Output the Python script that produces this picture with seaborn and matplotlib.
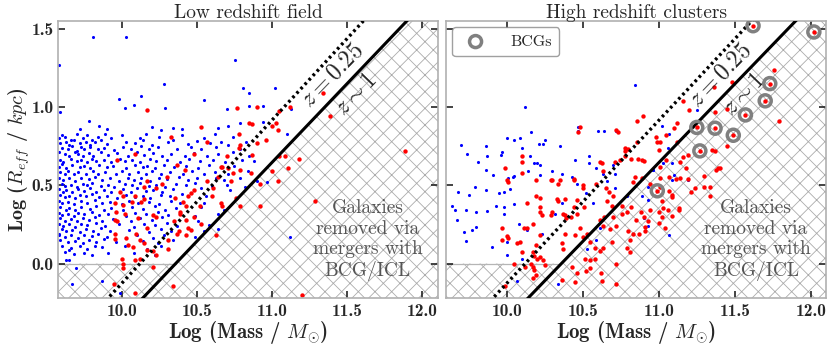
import numpy as np
import pandas as pd
import seaborn as sns
import matplotlib.pyplot as plt

# (log mass, log R_eff)
left_blue = [
    (9.81, 1.45), (10.03, 1.445), (9.58, 1.27), (10.755, 1.30), (10.28, 1.145), (10.81, 1.12),
    (11.02, 1.12), (10.85, 1.09), (10.13, 1.07), (9.98, 1.05), (10.55, 1.045), (10.08, 1.015),
    (10.02, 0.995), (9.59, 0.97), (10.29, 0.995), (10.70, 0.99), (10.94, 1.01), (10.85, 1.005),
    (9.78, 0.91), (9.72, 0.86), (9.85, 0.88), (9.90, 0.86), (10.20, 0.87), (10.26, 0.855),
    (10.34, 0.865), (10.40, 0.86), (10.64, 0.865), (10.71, 0.88), (10.79, 0.90), (10.94, 0.905),
    (11.13, 0.985), (11.10, 0.83), (9.58, 0.19), (9.645, 0.085), (9.63, 0.025), (9.65, 0.025),
    (9.695, -0.03), (9.665, -0.13), (9.87, -0.11), (9.99, -0.19), (10.64, 0.22), (11.12, 0.17),
    (10.97, 0.52),
    (9.58, 0.80), (9.60, 0.82), (9.62, 0.81), (9.66, 0.79), (9.70, 0.83), (9.74, 0.80), (9.77, 0.82),
    (9.80, 0.79), (9.84, 0.81), (9.89, 0.83), (9.93, 0.80), (10.00, 0.82), (10.12, 0.80), (10.16, 0.83),
    (10.25, 0.81), (10.34, 0.79), (10.40, 0.82), (10.55, 0.80), (10.62, 0.83), (10.74, 0.81),
    (9.59, 0.77), (9.63, 0.78), (9.65, 0.76), (9.68, 0.79), (9.72, 0.77), (9.76, 0.78), (9.79, 0.76),
    (9.82, 0.775), (9.86, 0.79), (9.90, 0.765), (10.03, 0.78), (10.09, 0.77), (10.14, 0.79),
    (10.20, 0.76), (10.31, 0.78), (10.44, 0.765), (10.50, 0.785), (10.59, 0.77), (10.66, 0.78),
    (10.71, 0.76), (10.83, 0.775),
    (9.60, 0.74), (9.64, 0.73), (9.67, 0.75), (9.70, 0.72), (9.73, 0.745), (9.75, 0.73), (9.79, 0.745),
    (9.84, 0.73), (9.88, 0.74), (9.95, 0.725), (10.01, 0.745), (10.06, 0.73), (10.13, 0.75),
    (10.18, 0.735), (10.24, 0.745), (10.37, 0.73), (10.46, 0.745), (10.53, 0.735), (10.63, 0.745),
    (10.79, 0.73),
    (9.58, 0.71), (9.62, 0.70), (9.65, 0.69), (9.69, 0.71), (9.71, 0.70), (9.74, 0.685), (9.78, 0.705),
    (9.81, 0.69), (9.86, 0.71), (9.91, 0.695), (9.97, 0.705), (10.04, 0.69), (10.10, 0.71),
    (10.15, 0.695), (10.21, 0.705), (10.27, 0.69), (10.33, 0.70), (10.42, 0.685), (10.48, 0.705),
    (10.57, 0.69), (10.64, 0.70), (10.74, 0.71), (10.85, 0.69),
    (9.59, 0.665), (9.61, 0.65), (9.66, 0.67), (9.70, 0.655), (9.73, 0.665), (9.77, 0.65), (9.80, 0.67),
    (9.83, 0.655), (9.88, 0.665), (9.93, 0.65), (9.99, 0.67), (10.02, 0.655), (10.07, 0.665),
    (10.12, 0.65), (10.19, 0.67), (10.23, 0.655), (10.30, 0.665), (10.39, 0.65), (10.45, 0.67),
    (10.52, 0.655), (10.61, 0.665), (10.69, 0.65), (10.80, 0.665), (10.88, 0.655),
    (9.58, 0.62), (9.60, 0.635), (9.63, 0.61), (9.67, 0.63), (9.72, 0.615), (9.75, 0.625), (9.79, 0.61),
    (9.85, 0.63), (9.90, 0.615), (9.94, 0.625), (10.03, 0.61), (10.09, 0.63), (10.14, 0.615),
    (10.17, 0.625), (10.22, 0.61), (10.28, 0.63), (10.35, 0.615), (10.43, 0.625), (10.51, 0.61),
    (10.58, 0.63), (10.66, 0.615), (10.75, 0.625),
    (9.59, 0.585), (9.62, 0.57), (9.64, 0.59), (9.68, 0.575), (9.71, 0.585), (9.76, 0.57), (9.81, 0.59),
    (9.84, 0.575), (9.89, 0.585), (9.96, 0.57), (10.00, 0.59), (10.05, 0.575), (10.11, 0.585),
    (10.16, 0.57), (10.20, 0.59), (10.26, 0.575), (10.32, 0.585), (10.41, 0.57), (10.47, 0.59),
    (10.55, 0.575), (10.62, 0.585), (10.71, 0.57), (10.84, 0.59),
    (9.58, 0.55), (9.61, 0.535), (9.65, 0.545), (9.69, 0.53), (9.73, 0.55), (9.78, 0.54), (9.82, 0.555),
    (9.87, 0.535), (9.92, 0.545), (9.98, 0.53), (10.04, 0.55), (10.08, 0.535), (10.13, 0.545),
    (10.19, 0.53), (10.25, 0.55), (10.30, 0.54), (10.38, 0.555), (10.44, 0.535), (10.50, 0.545),
    (10.57, 0.53), (10.63, 0.55), (10.68, 0.535), (10.79, 0.545), (10.90, 0.53),
    (9.60, 0.51), (9.62, 0.495), (9.66, 0.505), (9.70, 0.49), (9.74, 0.51), (9.77, 0.50), (9.80, 0.515),
    (9.86, 0.495), (9.91, 0.505), (9.95, 0.49), (10.02, 0.51), (10.07, 0.50), (10.12, 0.515),
    (10.18, 0.495), (10.23, 0.505), (10.29, 0.49), (10.36, 0.51), (10.43, 0.50), (10.49, 0.515),
    (10.60, 0.495), (10.70, 0.505), (10.82, 0.49),
    (9.58, 0.475), (9.61, 0.46), (9.63, 0.47), (9.67, 0.455), (9.71, 0.475), (9.75, 0.465), (9.79, 0.48),
    (9.83, 0.46), (9.88, 0.47), (9.93, 0.455), (10.01, 0.475), (10.06, 0.46), (10.10, 0.48),
    (10.16, 0.465), (10.21, 0.47), (10.27, 0.455), (10.34, 0.475), (10.53, 0.48), (10.72, 0.47),
    (9.59, 0.44), (9.62, 0.425), (9.65, 0.435), (9.69, 0.42), (9.72, 0.44), (9.76, 0.43), (9.80, 0.445),
    (9.85, 0.425), (9.90, 0.435), (9.97, 0.42), (10.03, 0.44), (10.09, 0.425), (10.14, 0.435),
    (10.19, 0.42), (10.26, 0.44), (10.32, 0.43), (10.40, 0.445), (10.56, 0.435),
    (9.58, 0.40), (9.60, 0.385), (9.64, 0.395), (9.68, 0.38), (9.73, 0.40), (9.77, 0.39), (9.82, 0.405),
    (9.87, 0.385), (9.92, 0.395), (10.00, 0.38), (10.05, 0.40), (10.11, 0.385), (10.18, 0.395),
    (10.25, 0.38), (10.33, 0.40), (10.39, 0.39), (10.55, 0.385),
    (9.59, 0.36), (9.63, 0.345), (9.65, 0.355), (9.69, 0.34), (9.73, 0.36), (9.79, 0.35), (9.83, 0.365),
    (9.88, 0.345), (9.93, 0.355), (10.01, 0.34), (10.07, 0.36), (10.14, 0.35), (10.22, 0.365),
    (10.29, 0.345), (10.36, 0.355), (10.53, 0.36), (10.68, 0.345),
    (9.58, 0.325), (9.60, 0.31), (9.64, 0.32), (9.68, 0.305), (9.71, 0.325), (9.75, 0.315), (9.80, 0.33),
    (9.85, 0.31), (9.91, 0.32), (10.03, 0.305), (10.09, 0.325), (10.16, 0.315), (10.24, 0.33),
    (10.31, 0.31), (10.49, 0.305), (10.64, 0.315),
    (9.59, 0.29), (9.62, 0.275), (9.66, 0.285), (9.70, 0.27), (9.74, 0.29), (9.78, 0.28), (9.82, 0.295),
    (9.87, 0.275), (9.94, 0.285), (10.06, 0.27), (10.12, 0.29), (10.20, 0.28), (10.27, 0.295),
    (10.35, 0.275), (10.51, 0.27),
    (9.58, 0.255), (9.61, 0.24), (9.65, 0.25), (9.69, 0.235), (9.73, 0.255), (9.77, 0.245), (9.83, 0.26),
    (9.89, 0.24), (9.98, 0.25), (10.08, 0.235), (10.15, 0.255), (10.22, 0.245), (10.30, 0.26),
    (10.37, 0.24), (10.58, 0.245),
    (9.60, 0.22), (9.63, 0.205), (9.67, 0.215), (9.72, 0.20), (9.76, 0.22), (9.81, 0.21), (9.86, 0.225),
    (9.92, 0.205), (10.05, 0.215), (10.18, 0.20), (10.26, 0.22), (10.33, 0.21), (10.55, 0.205),
    (9.58, 0.185), (9.62, 0.17), (9.66, 0.18), (9.71, 0.165), (9.75, 0.185), (9.80, 0.175), (9.84, 0.19),
    (9.90, 0.17), (10.10, 0.18), (10.21, 0.165), (10.28, 0.185), (10.49, 0.17),
    (9.59, 0.15), (9.64, 0.135), (9.69, 0.145), (9.74, 0.13), (9.78, 0.15), (9.83, 0.14), (9.88, 0.155),
    (9.96, 0.135), (10.14, 0.145), (10.24, 0.13), (10.34, 0.15),
    (9.60, 0.115), (9.66, 0.10), (9.72, 0.11), (9.77, 0.095), (9.82, 0.115), (9.87, 0.105), (10.02, 0.11),
    (10.17, 0.095), (10.26, 0.115),
    (9.62, 0.075), (9.68, 0.06), (9.75, 0.07), (9.80, 0.055), (9.91, 0.065), (10.08, 0.07), (10.22, 0.055),
]

left_red = [
    (9.97, 0.665), (10.085, 0.70), (10.165, 0.98), (10.33, 0.81), (10.53, 0.875), (10.565, 0.775),
    (10.48, 0.70), (10.37, 0.63), (10.42, 0.60), (10.30, 0.555), (10.27, 0.51), (10.23, 0.48),
    (10.17, 0.525), (9.99, 0.46), (10.005, 0.43), (9.955, 0.385), (10.01, 0.375), (10.065, 0.395),
    (10.13, 0.395), (10.15, 0.41), (9.96, 0.33), (10.02, 0.32), (9.955, 0.28), (9.965, 0.27),
    (10.11, 0.29), (10.21, 0.31), (10.23, 0.30), (10.345, 0.27), (10.39, 0.32), (10.43, 0.365),
    (10.44, 0.43), (10.46, 0.45), (10.48, 0.47), (9.955, 0.19), (9.955, 0.16), (10.03, 0.165),
    (10.04, 0.12), (10.075, 0.105), (10.095, 0.19), (10.12, 0.15), (10.15, 0.13), (10.165, 0.085),
    (10.21, 0.08), (10.23, 0.055), (10.12, 0.03), (10.00, 0.03), (10.01, 0.0), (10.01, -0.03),
    (10.09, 0.025), (10.21, -0.02), (10.38, 0.21), (10.31, 0.095), (10.37, 0.19), (10.43, 0.18),
    (10.44, 0.225), (10.53, 0.255), (10.52, 0.365), (10.60, 0.43), (10.61, 0.48), (10.565, 0.525),
    (10.64, 0.555), (10.66, 0.615), (10.67, 0.615), (10.71, 0.61), (10.74, 0.58), (10.73, 0.525),
    (10.70, 0.685), (10.78, 0.74), (10.79, 0.76), (10.78, 0.83), (10.85, 0.90), (10.87, 0.895),
    (10.90, 1.00), (10.77, 0.995), (10.79, 0.60), (10.86, 0.58), (10.87, 0.695), (10.90, 0.77),
    (10.96, 0.79), (11.00, 0.88), (11.03, 0.90), (11.04, 0.855), (11.05, 0.975), (11.12, 1.00),
    (11.09, 0.685), (11.05, 0.685), (11.00, 0.59), (11.04, 0.53), (11.11, 0.61), (10.92, 0.51),
    (10.66, 0.385), (10.67, 0.365), (10.79, 0.365), (10.76, 0.42), (10.625, 0.18), (10.31, 0.15),
    (10.165, 0.225), (10.355, 0.42), (10.41, 0.395), (10.385, 0.33), (10.43, 0.28), (10.48, 0.30),
    (10.46, 0.215), (10.145, 0.49), (10.09, 0.43),
    (11.34, 1.09), (11.39, 0.94), (11.89, 0.72), (11.18, 0.67), (11.29, 0.40), (10.92, 0.365),
    (11.20, -0.20), (10.34, -0.145), (10.09, -0.19), (9.95, -0.13),
]

right_blue = [
    (10.845, 1.14), (10.12, 1.00), (9.70, 0.755), (9.74, 0.70), (9.81, 0.65), (9.86, 0.75),
    (9.87, 0.685), (9.97, 0.715), (10.00, 0.80), (10.05, 0.79), (10.09, 0.80), (10.10, 0.74),
    (10.16, 0.84), (10.21, 0.765), (10.24, 0.765), (10.25, 0.79), (10.20, 0.64), (10.22, 0.63),
    (10.14, 0.59), (10.04, 0.555), (10.01, 0.55), (9.91, 0.565), (9.86, 0.60), (9.79, 0.49),
    (9.75, 0.44), (9.68, 0.46), (9.64, 0.365), (9.66, 0.34), (9.73, 0.34), (9.80, 0.33),
    (9.87, 0.335), (9.93, 0.365), (9.95, 0.45), (9.98, 0.455), (10.02, 0.475), (10.05, 0.56),
    (10.05, 0.38), (9.98, 0.32), (9.67, 0.28), (9.72, 0.20), (9.77, 0.215), (9.80, 0.235),
    (9.73, 0.145), (9.90, 0.105), (10.00, 0.055), (10.10, 0.03), (10.07, -0.11), (10.34, -0.13),
    (10.35, 0.75), (10.47, 0.875), (10.47, 0.85), (10.60, 0.845), (10.64, 0.85), (10.72, 0.85),
    (10.54, 0.685), (10.54, 0.645), (10.45, 0.66), (10.36, 0.575), (10.30, 0.59), (10.43, 0.555),
    (10.46, 0.51), (10.59, 0.61), (10.63, 0.575), (10.70, 0.63), (10.71, 0.575), (10.66, 0.525),
    (10.71, 0.485), (10.52, 0.45), (10.57, 0.385), (10.36, 0.39), (10.32, 0.32), (10.23, 0.19),
    (10.13, 0.215), (10.08, 0.255), (10.00, 0.14), (9.98, 0.36), (9.86, 0.47), (9.96, 0.695),
    (10.15, 0.685), (10.18, 0.64), (10.22, 0.565), (10.585, 0.15), (10.53, 0.095), (10.61, 0.225),
    (10.69, 0.365), (10.79, 0.43), (10.89, 0.43), (11.03, 0.64), (11.10, 0.565), (11.085, 0.535),
    (11.19, 0.535), (10.90, 0.29), (10.93, 0.24), (11.07, 0.18), (10.93, 0.405), (10.965, 0.60),
    (11.25, 0.98), (11.02, 0.88), (11.07, 0.83), (11.06, 0.74), (10.96, 0.60), (11.09, 0.64),
    (10.93, 0.49),
]

right_red = [
    (11.76, 1.24), (11.36, 1.13), (11.48, 1.16), (11.79, 0.91), (11.20, 0.98), (11.16, 1.04),
    (11.37, 0.97), (11.45, 0.99), (11.12, 0.90), (11.10, 0.865), (11.05, 0.82), (11.01, 0.78),
    (11.12, 0.78), (11.45, 0.75), (11.35, 0.725), (11.37, 0.72), (11.195, 0.695), (11.16, 0.68),
    (11.14, 0.65), (11.00, 0.725), (11.05, 0.66), (11.01, 0.62), (11.375, 0.60), (11.40, 0.61),
    (11.18, 0.61), (11.30, 0.56), (11.195, 0.54), (11.14, 0.545), (11.11, 0.54), (11.07, 0.555),
    (11.01, 0.545), (11.24, 0.48), (11.34, 0.49), (11.01, 0.49), (11.07, 0.465), (11.085, 0.44),
    (11.09, 0.425), (11.02, 0.40), (11.03, 0.355), (11.00, 0.33), (11.02, 0.30), (11.09, 0.305),
    (11.13, 0.355), (11.00, 0.26), (11.04, 0.23),
    (10.895, 0.94), (10.855, 0.91), (10.73, 0.84), (10.47, 0.84), (10.78, 0.72), (10.82, 0.67),
    (10.86, 0.67), (10.89, 0.665), (10.98, 0.81), (10.985, 0.78), (10.745, 0.665), (10.625, 0.645),
    (10.635, 0.59), (10.845, 0.555), (10.83, 0.52), (10.89, 0.545), (10.94, 0.51), (10.30, 0.535),
    (10.35, 0.535), (10.44, 0.54), (10.50, 0.50), (10.50, 0.48), (10.59, 0.51), (10.65, 0.48),
    (10.67, 0.46), (10.70, 0.43), (10.66, 0.40), (10.69, 0.37), (10.33, 0.415), (10.38, 0.415),
    (10.44, 0.36), (10.37, 0.32), (10.39, 0.29), (10.42, 0.30), (10.46, 0.32), (10.48, 0.23),
    (10.36, 0.13), (10.37, 0.09), (10.45, 0.18), (10.50, 0.17), (10.53, 0.19), (10.55, 0.135),
    (10.58, 0.10), (10.63, 0.10), (10.61, 0.08), (10.69, 0.135), (10.68, 0.22), (10.72, 0.24),
    (10.63, 0.24), (10.61, 0.28), (10.64, 0.30), (10.70, 0.30), (10.76, 0.32), (10.79, 0.33),
    (10.82, 0.36), (10.76, 0.37), (10.88, 0.33), (10.90, 0.30), (10.945, 0.345), (10.85, 0.28),
    (10.87, 0.19), (10.83, 0.19), (10.91, 0.235), (10.79, 0.10), (10.81, 0.075), (10.72, 0.0),
    (10.515, 0.03), (10.55, 0.025), (10.58, 0.03), (10.55, -0.03), (10.52, -0.05), (10.46, -0.06),
    (10.43, -0.02), (10.62, -0.06), (10.45, -0.12), (10.36, -0.105), (10.72, -0.13),
    (9.99, 0.61), (10.10, 0.69), (10.10, 0.65), (10.10, 0.58), (10.00, 0.535), (10.19, 0.535),
    (10.29, 0.535), (10.19, 0.43), (10.22, 0.42), (10.13, 0.385), (10.22, 0.36), (10.22, 0.33),
    (10.23, 0.31), (10.29, 0.31), (10.30, 0.33), (10.17, 0.255), (10.11, 0.23), (10.13, 0.23),
    (9.97, 0.23), (9.97, 0.15), (10.00, 0.175), (10.01, 0.165), (10.07, 0.13), (10.09, 0.135),
    (10.10, 0.075), (10.17, 0.075), (10.22, 0.18), (10.19, 0.12), (10.18, 0.05), (10.22, 0.045),
    (10.24, 0.02), (10.16, 0.0), (10.05, 0.0), (10.17, -0.02), (10.18, -0.04), (10.175, -0.09),
    (10.12, -0.02), (9.99, -0.145), (10.25, -0.01), (10.20, 0.03), (10.19, -0.07),
    (10.01, 0.52), (10.34, 0.51), (10.34, 0.40), (10.38, 0.31), (10.38, 0.19), (10.44, 0.535),
    (10.46, 0.405), (10.51, 0.36), (10.48, 0.875), (10.78, 0.74),
    (11.21, 0.46), (11.30, 0.49), (11.34, 0.43), (11.39, 0.61), (11.13, 0.345), (11.06, 0.34),
    (10.93, 0.27), (10.91, 0.21), (10.80, 0.21), (10.81, 0.15), (10.625, -0.11), (10.90, 0.655),
    (10.72, 0.855), (10.80, 0.735), (10.78, 0.69), (10.71, 0.65), (10.61, 0.65), (10.855, 0.775),
]

bcg_mass = [11.62, 12.02, 11.73, 11.70, 11.57, 11.25, 11.37, 11.49, 11.27, 10.99]
bcg_reff = [1.52, 1.48, 1.15, 1.04, 0.95, 0.87, 0.865, 0.82, 0.72, 0.465]

x_ticks = [10.0, 10.5, 11.0, 11.5, 12.0]
y_ticks = [0.0, 0.5, 1.0, 1.5]
panel_titles = ["Low redshift field", "High redshift clusters"]
panel_xlims = [(9.575, 12.108), (9.60, 12.10)]
# size limits: log R = slope * (log M - zero point)
z1_line = (1.006, 10.359)     # z ~ 1
z025_line = (1.041, 10.121)   # z = 0.25
removed_text = "Galaxies\nremoved via\nmergers with\nBCG/ICL"


def limit(xs, line):
    slope, x0 = line
    return slope * (xs - x0)


def draw_panel(ax, blue, red, title, xlim):
    xs = np.linspace(9.4, 12.3, 400)

    # hatched "removed" region: below the z~1 line or below zero
    ax.fill_between(xs, -0.5, np.maximum(0, limit(xs, z1_line)), facecolor="none",
                    edgecolor="#ababab", hatch="xx", linewidth=0, zorder=0)
    ax.plot([9.4, z1_line[1]], [0, 0], color="#b5b5b5", lw=0.9, zorder=0.5)

    b = pd.DataFrame(blue, columns=["mass", "reff"])
    r = pd.DataFrame(red, columns=["mass", "reff"])
    sns.scatterplot(data=b, x="mass", y="reff", color="blue", s=5, linewidth=0,
                    ax=ax, zorder=2, legend=False)
    sns.scatterplot(data=r, x="mass", y="reff", color="red", s=10, linewidth=0,
                    ax=ax, zorder=2.5, legend=False)

    ax.plot(xs, limit(xs, z1_line), color="black", lw=2.2, zorder=3)
    ax.plot(xs, limit(xs, z025_line), color="black", lw=2.4, ls=(0, (0.8, 1.0)), zorder=3)

    ax.text(11.405, 1.205, "$z = 0.25$", fontsize=17, rotation=46, ha="center",
            va="center", rotation_mode="anchor", zorder=4)
    ax.text(11.565, 1.08, r"$z \sim 1$", fontsize=17, rotation=46, ha="center",
            va="center", rotation_mode="anchor", zorder=4)
    ax.text(11.64, 0.15, removed_text, fontsize=14, color="#555555", ha="center",
            va="center", linespacing=1.2, zorder=4)

    ax.set_xlim(*xlim)
    ax.set_ylim(-0.22, 1.55)
    ax.set_xticks(x_ticks)
    ax.set_xticklabels([f"{t:.1f}" for t in x_ticks], fontfamily="cmb10", fontsize=12.5)
    ax.set_yticks(y_ticks)
    ax.set_yticklabels([f"{t:.1f}" for t in y_ticks], fontfamily="cmb10", fontsize=12.5)
    ax.tick_params(direction="in", length=5, width=1.2, top=True, right=True,
                   color="#222222", pad=4)
    ax.tick_params(axis="y", pad=3)
    for sp in ax.spines.values():
        sp.set_color("#b0b0b0")
        sp.set_linewidth(1.2)
    ax.set_title(title, fontsize=14, pad=2)
    ax.set_xlabel(r"Log (Mass / $M_{\odot}$)", fontfamily="cmb10", fontsize=15, labelpad=0)


def main():
    sns.set_style("ticks")
    plt.rcParams["font.family"] = ["cmr10", "DejaVu Serif"]
    plt.rcParams["mathtext.fontset"] = "cm"
    plt.rcParams["axes.unicode_minus"] = False
    plt.rcParams["hatch.linewidth"] = 0.6

    fig = plt.figure(figsize=(8.31, 3.44), dpi=100)
    ax1 = fig.add_axes([0.0698, 0.1337, 0.4573, 0.8052])
    ax2 = fig.add_axes([0.5367, 0.1337, 0.4573, 0.8052])

    draw_panel(ax1, left_blue, left_red, panel_titles[0], panel_xlims[0])
    draw_panel(ax2, right_blue, right_red, panel_titles[1], panel_xlims[1])

    ax1.set_ylabel(r"Log ($R_{eff}$ / $kpc$)", fontfamily="cmb10", fontsize=14.5, labelpad=0)
    ax2.set_ylabel("")
    ax2.tick_params(labelleft=False)

    # BCGs in the cluster panel: red dot with a grey ring
    sns.scatterplot(x=bcg_mass, y=bcg_reff, color="red", s=10, linewidth=0,
                    ax=ax2, zorder=5, legend=False)
    ax2.scatter(bcg_mass, bcg_reff, s=75, facecolors="none", edgecolors="#808080",
                linewidths=2.5, zorder=4.5, label="BCGs")
    ax2.legend(loc="upper left", fontsize=11.5, frameon=True, fancybox=True,
               edgecolor="#888888", borderpad=0.45, handletextpad=1.2,
               borderaxespad=0.4, scatterpoints=1)

    fig.savefig("out.png", dpi=100)


if __name__ == "__main__":
    main()
